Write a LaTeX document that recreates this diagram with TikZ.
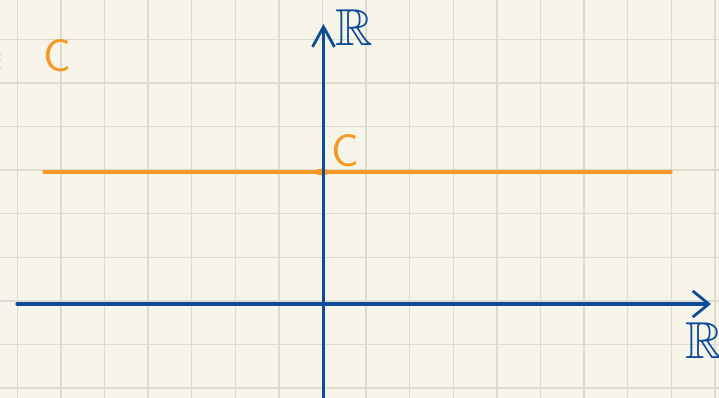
\documentclass[tikz,border=0pt]{standalone}
\usepackage{amssymb}
\usetikzlibrary{arrows.meta}
\definecolor{paper}{RGB}{247,245,233}
\definecolor{gridc}{RGB}{221,219,206}
\definecolor{axisblue}{RGB}{14,76,152}
\definecolor{orng}{RGB}{245,152,36}
\begin{document}
\begin{tikzpicture}[x=1pt,y=-1pt,
  gridline/.style={gridc,line width=1.5pt},
  axisline/.style={axisblue,line width=3.2pt,line cap=round},
  orangeline/.style={orng,line width=3.2pt,line cap=round},
  bblabel/.style={text=axisblue,font=\fontsize{52}{56}\selectfont,inner sep=0pt},
  clabel/.style={text=orng,font=\sffamily\fontsize{46}{50}\selectfont,inner sep=0pt}]
\fill[paper] (0,0) rectangle (719,398);
\useasboundingbox (0,0) rectangle (719,398);
\begin{scope}
\clip (0,0) rectangle (719,398);
\foreach \i in {0,...,16} {\draw[gridline] ({17.3+43.6*\i},0) -- ({17.3+43.6*\i},398);}
\foreach \j in {0,...,8} {\draw[gridline] (0,{39.3+43.6*\j}) -- (719,{39.3+43.6*\j});}

% orange line
\coordinate (oL) at (44,172);
\coordinate (oR) at (671,172);
\draw[orangeline] (oL) -- (oR);
\fill[orng] (322,172) ellipse (8 and 3.2);

% axes
\coordinate (xL) at (17,304);
\coordinate (xR) at (711,304);
\coordinate (yB) at (323.5,400);
\coordinate (yT) at (323.5,24);
\draw[axisline,-{Straight Barb[length=16pt,width=26pt,line width=2.8pt]}] (xL) -- (xR);
\draw[axisline,-{Straight Barb[length=20pt,width=22pt,line width=2.8pt]}] (yB) -- (yT);

% labels
\node[bblabel,anchor=base] (rTop) at (354,46) {$\mathbb{R}$};
\node[bblabel,anchor=base] (rRight) at (704,358) {$\mathbb{R}$};
\node[clabel,anchor=base] (cTop) at (57,72) {C};
\node[clabel,anchor=base] (cMid) at (345,166) {C};
\node[text=orng,font=\fontsize{34}{38}\selectfont,inner sep=0pt] (inSym) at (-5,61) {$\in$};
\end{scope}
\end{tikzpicture}
\end{document}
